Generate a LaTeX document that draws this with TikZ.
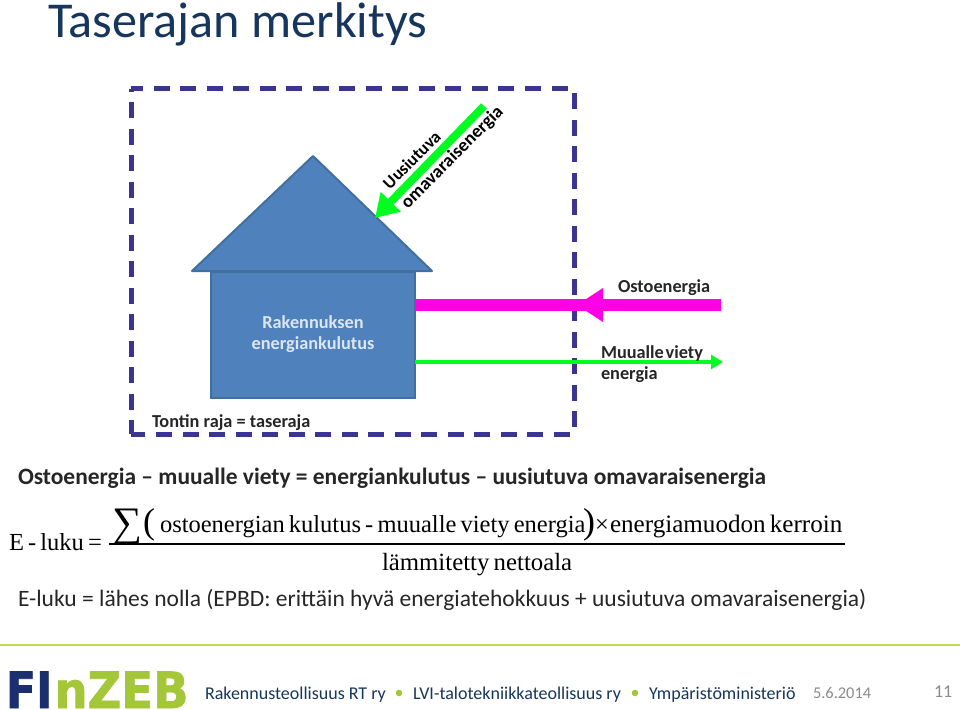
\documentclass[tikz,border=0pt]{standalone}
\usepackage{fontspec}
\setmainfont{Carlito}
\newfontfamily\formfont{Liberation Serif}
\newfontfamily\logofont[BoldFont={DejaVu Sans Bold},BoldFeatures={FakeBold=1.5}]{DejaVu Sans}
\usetikzlibrary{arrows.meta}
\definecolor{navy}{HTML}{17365D}
\definecolor{boxblue}{HTML}{4F81BD}
\definecolor{boxedge}{HTML}{41709F}
\definecolor{dashblue}{HTML}{3B3591}
\definecolor{hotpink}{HTML}{FF00E6}
\definecolor{brightgreen}{HTML}{00FF21}
\definecolor{zebgreen}{HTML}{A4C739}
\definecolor{logonavy}{HTML}{1B2F6E}
\definecolor{rulegreen}{HTML}{C8D650}
\definecolor{footgray}{HTML}{8B8B8B}
\newcommand{\fs}[1]{\fontsize{\dimexpr#1pt*3/4\relax}{\dimexpr#1pt*9/10\relax}\selectfont}
\newcommand{\tightsp}{\spaceskip.17em\relax}
\newcommand{\tightersp}{\spaceskip.1em\relax}
\tikzset{
  txt/.style={anchor=base west,inner sep=0pt,outer sep=0pt},
  lab/.style={txt,font=\fs{18.3}\bfseries,text=black!85},
  body/.style={txt,font=\fs{23.45}\bfseries,text=black!85},
  form/.style={txt,font=\formfont\fs{24.5}\tightsp,text=black},
  foot/.style={txt,font=\fs{18},text=navy},
  footg/.style={txt,text=footgray},
  bluelab/.style={font=\fs{18.3}\bfseries,text=white!80!boxblue,align=center,inner sep=0pt},
  slant/.style={font=\bfseries,text=black,inner sep=0pt,rotate=45,anchor=base},
  dashborder/.style={draw=dashblue,line width=3.75pt,dash pattern=on 12pt off 7.9pt},
}
\begin{document}
\begin{tikzpicture}[x=0.75pt,y=-0.75pt]
\useasboundingbox (0,0) rectangle (960,710);
\fill[white] (0,0) rectangle (960,710);
\node[txt,font=\fs{50.2},text=navy] (title) at (48,38) {Taserajan merkitys};
% border
\draw[dashborder,dash phase=3pt] (131,89) -- (574,89) -- (574,434) -- (131,434);
\draw[dashborder,dash phase=10.1pt] (131,89) -- (131,434);
% house
\fill[boxblue,draw=boxedge,line width=1.5pt,line join=round] (192,271) coordinate (rl) -- (313,156) coordinate (rt) -- (432,271) coordinate (rr) -- cycle;
\node[fill=boxblue,draw=boxedge,line width=1.5pt,minimum width=153pt,minimum height=94.5pt,inner sep=0pt,outer sep=0pt,anchor=north west] (body) at (211,271.5) {};
\node[bluelab] (bodytext) at (313,334) {Rakennuksen\\[-1pt]energiankulutus};
% arrows
\coordinate (pinkstart) at (721,305);
\coordinate (pinktip) at (577,305);
\coordinate (pinkbase) at (603,305);
\coordinate (greenend) at (723,362);
\coordinate (renewstart) at (484,106);
\coordinate (renewtip) at (375,218);
\draw[hotpink,line width=9pt] (pinkstart) -- (pinkbase);
\draw[hotpink,line width=9pt] (pinkbase) -- (pinkbase -| body.east);
\fill[hotpink] (pinktip) -- (603,288) -- (603,322) -- cycle;
\draw[brightgreen,line width=3pt,-{Triangle[length=9pt,width=10.5pt]}] (body.east |- greenend) -- (greenend);
\draw[brightgreen,line width=6pt,-{Triangle[length=17pt,width=20pt]}] (renewstart) -- (renewtip);
% labels
\node[lab] (ostolab) at (618,292) {Ostoenergia};
\node[lab,font=\fs{18.3}\bfseries\tightersp] (vietylab1) at (601,358) {Muualle viety};
\node[lab] (vietylab2) at (601,379) {energia};
\node[lab] (rajalab) at (152,427) {Tontin raja = taseraja};
\node[slant,font=\fs{17.5}\bfseries] (uus) at (416,164) {Uusiutuva};
\node[slant,font=\fs{18.5}\bfseries] (oma) at (456,161) {omavaraisenergia};
% equations
\node[body] (eq1) at (18,484) {Ostoenergia – muualle viety = energiankulutus – uusiutuva omavaraisenergia};
\node[form] (eluku) at (9,550) {E - luku =};
\node[txt,font=\formfont\fs{42}] (sum) at (112,536) {∑};
\node[txt,font=\formfont\fs{36},text=black] (par1) at (143,533) {(};
\node[form] (num1) at (160,532) {ostoenergian kulutus - muualle viety energia};
\node[txt,font=\formfont\fs{36},text=black] (par2) at (583,533) {)};
\node[form] (times) at (595,532) {×};
\node[form,font=\formfont\fs{25.1}\tightsp] (num2) at (610,532) {energiamuodon kerroin};
\node[form,font=\formfont\fs{24.8}\tightsp] (den) at (382,570) {lämmitetty nettoala};
\coordinate (barl) at (109,544);
\coordinate (barr) at (845,544);
\draw[black,line width=0.9pt] (barl) -- (barr);
\node[txt,font=\fs{23.5},text=black!85] (note) at (18,606) {E-luku = lähes nolla (EPBD: erittäin hyvä energiatehokkuus + uusiutuva omavaraisenergia)};
% footer
\coordinate (rl1) at (0,645);
\coordinate (rl2) at (960,645);
\draw[rulegreen,line width=1pt] (rl1) -- (rl2);
\node[txt,font=\logofont\fs{50}\bfseries,text=logonavy,xscale=.88,text depth=0pt] (logo1) at (6,708) {FI};
\node[txt,font=\logofont\fs{50}\bfseries,text=zebgreen,xscale=.93,text depth=0pt] (logo2) at (54.5,708) {nZEB};
\node[foot] (f1) at (205,699) {Rakennusteollisuus RT ry};
\fill[zebgreen] (399,693) circle (3.3);
\node[foot] (f2) at (413,699) {LVI-talotekniikkateollisuus ry};
\fill[zebgreen] (635,693) circle (3.3);
\node[foot] (f3) at (649,699) {Ympäristöministeriö};
\node[footg,font=\fs{16.4}] (f4) at (813,698) {5.6.2014};
\node[footg,font=\fs{18}] (f5) at (934,697) {11};
\end{tikzpicture}
\end{document}
